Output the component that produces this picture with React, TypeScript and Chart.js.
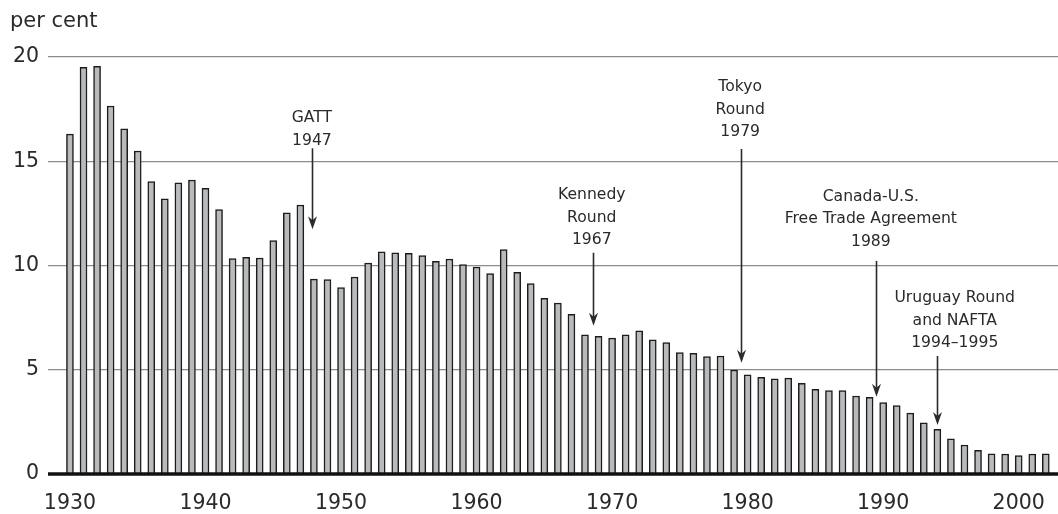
import React, { useEffect, useRef } from "react";
import { Chart, registerables } from "chart.js";

Chart.register(...registerables);

const years = [
  1930, 1931, 1932, 1933, 1934, 1935, 1936, 1937, 1938, 1939,
  1940, 1941, 1942, 1943, 1944, 1945, 1946, 1947, 1948, 1949,
  1950, 1951, 1952, 1953, 1954, 1955, 1956, 1957, 1958, 1959,
  1960, 1961, 1962, 1963, 1964, 1965, 1966, 1967, 1968, 1969,
  1970, 1971, 1972, 1973, 1974, 1975, 1976, 1977, 1978, 1979,
  1980, 1981, 1982, 1983, 1984, 1985, 1986, 1987, 1988, 1989,
  1990, 1991, 1992, 1993, 1994, 1995, 1996, 1997, 1998, 1999,
  2000, 2001, 2002,
];

const tariffRates = [
  16.3, 19.5, 19.55, 17.65, 16.56, 15.49, 14.03, 13.2, 13.96, 14.1,
  13.7, 12.68, 10.33, 10.39, 10.36, 11.19, 12.53, 12.9, 9.35, 9.33,
  8.94, 9.45, 10.12, 10.65, 10.61, 10.58, 10.47, 10.2, 10.31, 10.05,
  9.93, 9.61, 10.76, 9.67, 9.13, 8.42, 8.2, 7.66, 6.67, 6.6,
  6.52, 6.67, 6.87, 6.43, 6.3, 5.82, 5.79, 5.63, 5.66, 4.99,
  4.76, 4.64, 4.57, 4.6, 4.35, 4.06, 4.0, 4.0, 3.74, 3.68,
  3.42, 3.28, 2.92, 2.45, 2.14, 1.69, 1.39, 1.13, 0.97, 0.96,
  0.88, 0.96, 0.97,
];

const xTickYears = [1930, 1940, 1950, 1960, 1970, 1980, 1990, 2000];
const yTickValues = [0, 5, 10, 15, 20];
const yAxisTitle = "per cent";

const annotationLines = [
  ["GATT", "1947"],
  ["Kennedy", "Round", "1967"],
  ["Tokyo", "Round", "1979"],
  ["Canada-U.S.", "Free Trade Agreement", "1989"],
  ["Uruguay Round", "and NAFTA", "1994\u20131995"],
];
const annotationArrowYears = [1947.88, 1968.56, 1979.5, 1989.48, 1993.96];
const annotationTextYears = [1947.85, 1968.5, 1979.45, 1989.09, 1995.28];
const annotationTextTop = [17.06, 13.38, 18.55, 13.3, 8.43];
const annotationArrowTop = [15.62, 10.61, 15.59, 10.22, 5.66];
const annotationArrowTip = [11.74, 7.11, 5.34, 3.71, 2.35];

const FONT = "'DejaVu Sans', 'Liberation Sans', sans-serif";
const INK = "#2a2a2a";

const overlayPlugin = {
  id: "overlay",
  afterDatasetsDraw(chart: any) {
    const { ctx, chartArea } = chart;
    const xs = chart.scales.x;
    const ys = chart.scales.y;
    ctx.save();
    const y0 = ys.getPixelForValue(0);
    ctx.strokeStyle = "#111";
    ctx.lineWidth = 3.5;
    ctx.beginPath();
    ctx.moveTo(chartArea.left, y0);
    ctx.lineTo(chartArea.right, y0);
    ctx.stroke();

    ctx.fillStyle = INK;
    ctx.font = `21px ${FONT}`;
    ctx.textAlign = "left";
    ctx.textBaseline = "middle";
    ctx.fillText(yAxisTitle, 10, 22);

    ctx.font = `15.6px ${FONT}`;
    ctx.textAlign = "center";
    annotationLines.forEach((lines, i) => {
      const tx = xs.getPixelForValue(annotationTextYears[i]);
      const ty = ys.getPixelForValue(annotationTextTop[i]);
      lines.forEach((line, j) => {
        ctx.fillText(line, tx, ty + j * 22.5);
      });
      const ax = Math.round(xs.getPixelForValue(annotationArrowYears[i])) + 0.5;
      const top = ys.getPixelForValue(annotationArrowTop[i]);
      const tip = ys.getPixelForValue(annotationArrowTip[i]);
      ctx.strokeStyle = INK;
      ctx.lineWidth = 1.6;
      ctx.beginPath();
      ctx.moveTo(ax, top);
      ctx.lineTo(ax, tip - 8);
      ctx.stroke();
      ctx.beginPath();
      ctx.moveTo(ax, tip);
      ctx.lineTo(ax - 4.5, tip - 13);
      ctx.lineTo(ax, tip - 9);
      ctx.lineTo(ax + 4.5, tip - 13);
      ctx.closePath();
      ctx.fill();
    });
    ctx.restore();
  },
};

export default function App() {
  const canvasRef = useRef<HTMLCanvasElement | null>(null);

  useEffect(() => {
    if (!canvasRef.current) return;
    const chart = new Chart(canvasRef.current, {
      type: "bar",
      data: {
        datasets: [
          {
            data: years.map((yr, i) => ({ x: yr, y: tariffRates[i] })),
            backgroundColor: "#b9babc",
            borderColor: "#1c1c1c",
            borderWidth: 1.5,
            barThickness: 7,
          },
        ],
      },
      options: {
        animation: false,
        responsive: false,
        devicePixelRatio: 1,
        layout: { padding: { top: 57, left: 0, right: 0, bottom: 0 } },
        plugins: {
          legend: { display: false },
          tooltip: { enabled: false },
        },
        scales: {
          x: {
            type: "linear",
            offset: false,
            min: 1928.38,
            max: 2002.9,
            grid: { display: false, drawTicks: false, offset: false },
            border: { display: false },
            afterBuildTicks: (scale: any) => {
              scale.ticks = xTickYears.map((v) => ({ value: v }));
            },
            afterFit: (scale: any) => {
              scale.height = 40;
              scale.paddingLeft = 0;
              scale.paddingRight = 0;
            },
            ticks: {
              includeBounds: false,
              autoSkip: false,
              maxRotation: 0,
              padding: 17,
              color: INK,
              font: { family: FONT, size: 20.5 },
              callback: (v: any) => String(v),
            },
          },
          y: {
            min: 0,
            max: 20,
            afterBuildTicks: (scale: any) => {
              scale.ticks = yTickValues.map((v) => ({ value: v }));
            },
            afterFit: (scale: any) => {
              scale.width = 48;
            },
            grid: {
              color: "#8c8c8c",
              lineWidth: 1.2,
              drawTicks: false,
            },
            border: { display: false },
            ticks: {
              padding: 9,
              color: INK,
              font: { family: FONT, size: 20.5 },
              callback: (v: any) => String(v),
            },
          },
        },
      },
      plugins: [overlayPlugin],
    });
    return () => chart.destroy();
  }, []);

  return (
    <div style={{ position: "absolute", left: 0, top: 0, width: 1058, height: 514, background: "#fff" }}>
      <canvas ref={canvasRef} width={1058} height={514} style={{ display: "block" }} />
    </div>
  );
}
